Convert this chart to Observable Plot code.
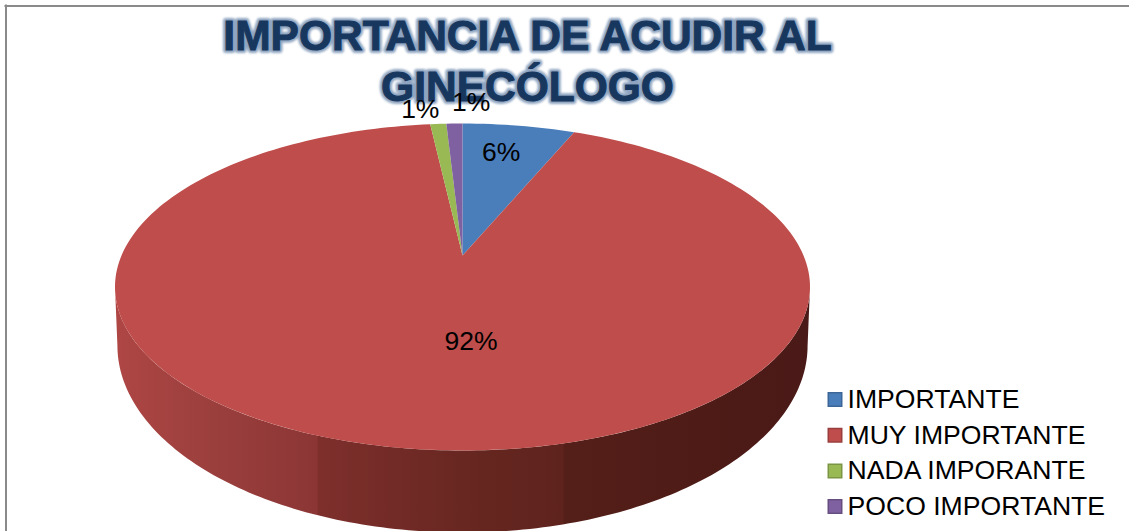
<!DOCTYPE html>
<html>
<head>
<meta charset="utf-8">
<script src="https://cdn.jsdelivr.net/npm/d3@7"></script>
<script src="https://cdn.jsdelivr.net/npm/@observablehq/plot@0.6"></script>
<style>
html,body{margin:0;padding:0;background:#fff;}
svg{display:block;}
</style>
</head>
<body>
<div id="chart"></div>
<script>
const titleText = "IMPORTANCIA DE ACUDIR AL\nGINECÓLOGO";
const categories = ["IMPORTANTE", "MUY IMPORTANTE", "NADA IMPORANTE", "POCO IMPORTANTE"];
const values = [6.3, 91.9, 0.9, 0.9];
const palette = ["#4a7ebb", "#be4d4b", "#98b954", "#7f60a0"];

// Perspective tilt of the disc, and the rim's lower ellipse, in pie radii
const tilt = 0.1927;
const rimCentre = 0.572, rimRx = 1.012, rimRy = 1.188;
const project = (angle, r = 1) => {
  const u = r * Math.sin(angle), v = -r * Math.cos(angle), d = 1 - tilt * v;
  return [u / d, v / d];
};

const arcs = d3.pie().sort(null)(values);
const sliceRows = arcs.flatMap((a, i) => {
  const n = Math.max(2, Math.ceil((a.endAngle - a.startAngle) * 40));
  const pts = [{category: categories[i], p: [0, 0]}];
  for (let k = 0; k <= n; k++) {
    pts.push({category: categories[i], p: project(a.startAngle + (a.endAngle - a.startAngle) * k / n)});
  }
  return pts;
});

// Rim outline: front of the disc right to left, then the lower ellipse left to right
const rimRows = [];
const N = 160;
const widest = Math.acos(-0.1926);
for (let k = 0; k <= N; k++) rimRows.push(project(widest + (2 * Math.PI - 2 * widest) * k / N));
for (let k = 0; k <= N; k++) {
  const t = Math.PI * k / N;
  rimRows.push([-rimRx * Math.cos(t), rimCentre + rimRy * Math.sin(t)]);
}

const labelPlacement = [
  {r: 0.76, dx: -6, dy: 0},
  {r: 0.5, dx: 35, dy: 0},
  {r: 1.15, dx: -15, dy: 2},
  {r: 1.2, dx: 18, dy: 0}
];
const labelMarks = arcs.map((a, i) => {
  const mid = (a.startAngle + a.endAngle) / 2;
  const [X, Y] = project(mid, labelPlacement[i].r);
  return Plot.text([Math.round(values[i]) + "%"], {
    x: () => X, y: () => Y, text: d => d,
    dx: labelPlacement[i].dx, dy: labelPlacement[i].dy,
    fontSize: 26.5, fill: "#000", lineAnchor: "middle", textAnchor: "middle"
  });
});

const defs = () => {
  const ns = "http://www.w3.org/2000/svg";
  const g = document.createElementNS(ns, "g");
  const d = document.createElementNS(ns, "defs");
  const lg = document.createElementNS(ns, "linearGradient");
  lg.setAttribute("id", "rimShade");
  lg.setAttribute("gradientUnits", "userSpaceOnUse");
  lg.setAttribute("x1", 115); lg.setAttribute("x2", 810);
  lg.setAttribute("y1", 0); lg.setAttribute("y2", 0);
  [[0, "#ae4644"], [0.122, "#9d403e"], [0.29, "#8b3635"], [0.2915, "#7e2f2c"],
   [0.526, "#662620"], [0.644, "#5f231d"], [0.6455, "#551f19"], [0.842, "#4e1b16"], [1, "#4a1a18"]]
    .forEach(([o, c]) => {
      const s = document.createElementNS(ns, "stop");
      s.setAttribute("offset", o); s.setAttribute("stop-color", c);
      lg.appendChild(s);
    });
  d.appendChild(lg); g.appendChild(d);
  return g;
};

const legendMarks = categories.flatMap((c, i) => {
  const rowY = 399 + i * 35.7;
  return [
    Plot.dot([c], {
      frameAnchor: "top-left", dx: 834.5, dy: rowY, symbol: "square", r: 7.6,
      fill: d => d, stroke: d3.color(palette[i]).darker(0.6).formatHex(), strokeWidth: 1.5
    }),
    Plot.text([c], {
      frameAnchor: "top-left", dx: 847, dy: rowY, text: d => d,
      textAnchor: "start", lineAnchor: "middle", fontSize: 26.6, fill: "#000"
    })
  ];
});

const chart = Plot.plot({
  width: 1129, height: 531,
  marginTop: 0, marginRight: 0, marginBottom: 0, marginLeft: 0,
  style: {fontFamily: "'Liberation Sans', Arial, sans-serif", background: "#fff"},
  x: {axis: null, domain: [-1, 1], range: [462 - 341, 462 + 341]},
  y: {axis: null, domain: [-1, 1], range: [255 - 157.4, 255 + 157.4]},
  color: {domain: categories, range: palette},
  marks: [
    defs,
    // chart frame: only the top and left edges are visible
    Plot.frame({anchor: "top", insetLeft: 5, dy: 5.5, stroke: "#8a8a8a", strokeWidth: 2}),
    Plot.frame({anchor: "left", insetTop: 5, dx: 5.5, stroke: "#8a8a8a", strokeWidth: 2}),
    // rim
    Plot.line(rimRows, {x: d => d[0], y: d => d[1], fill: "url(#rimShade)", stroke: "none"}),
    // slices
    Plot.line(sliceRows, {x: d => d.p[0], y: d => d.p[1], z: "category", fill: "category", stroke: "none"}),
    // title glow + title
    Plot.text([titleText], {
      frameAnchor: "top-left", dx: 527, dy: 59, text: d => d, textAnchor: "middle", lineAnchor: "middle",
      fontSize: 42.5, fontWeight: "bold", lineHeight: 1.19,
      fill: "#8ea4c0", stroke: "#8ea4c0", strokeWidth: 6, imageFilter: "blur(1.2px)"
    }),
    Plot.text([titleText], {
      frameAnchor: "top-left", dx: 527, dy: 59, text: d => d, textAnchor: "middle", lineAnchor: "middle",
      fontSize: 42.5, fontWeight: "bold", lineHeight: 1.19,
      fill: "#17375e", stroke: "#17375e", strokeWidth: 1
    }),
    ...labelMarks,
    ...legendMarks
  ]
});
document.getElementById("chart").appendChild(chart);
</script>
</body>
</html>
